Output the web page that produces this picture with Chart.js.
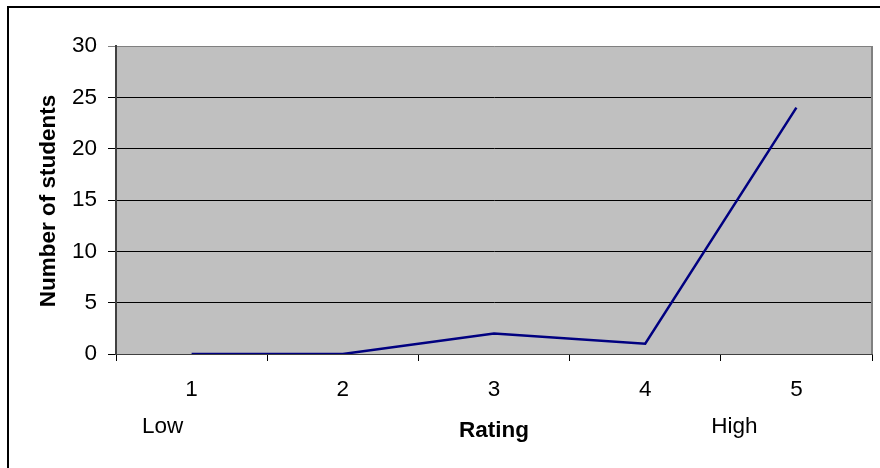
<!DOCTYPE html>
<html>
<head>
<meta charset="utf-8">
<script src="https://cdn.jsdelivr.net/npm/chart.js@4"></script>
<style>
  html, body { margin: 0; padding: 0; background: #fff; }
  #wrap { width: 880px; height: 468px; position: relative; }
</style>
</head>
<body>
<div id="wrap"><canvas id="c" width="880" height="468"></canvas></div>
<script>
// Ratings given by students (1 = low, 5 = high)
const ratings = ['1', '2', '3', '4', '5'];
const students = [0, 0, 2, 1, 24];
const yTicks = [0, 5, 10, 15, 20, 25, 30];

const FONT = '"Liberation Sans", Arial, sans-serif';
const SIZE = 22.5;

// Grey plot area, frame lines and the extra captions
const decor = {
  id: 'decor',
  beforeDraw(chart) {
    const { ctx, chartArea: a } = chart;
    ctx.save();
    ctx.fillStyle = '#ffffff';
    ctx.fillRect(0, 0, chart.width, chart.height);
    // outer frame (left and top edges fall inside the canvas)
    ctx.strokeStyle = '#000';
    ctx.lineWidth = 2;
    ctx.beginPath();
    ctx.moveTo(8, chart.height + 5);
    ctx.lineTo(8, 7);
    ctx.lineTo(chart.width + 5, 7);
    ctx.stroke();
    ctx.fillStyle = '#c0c0c0';
    ctx.fillRect(a.left, a.top, a.right - a.left, a.bottom - a.top);
    ctx.restore();
  },
  afterDatasetsDraw(chart) {
    const { ctx, chartArea: a, scales } = chart;
    ctx.save();
    // right edge of the plot area
    ctx.strokeStyle = '#808080';
    ctx.lineWidth = 2;
    ctx.beginPath();
    ctx.moveTo(a.right, a.top);
    ctx.lineTo(a.right, a.bottom);
    ctx.stroke();

    ctx.fillStyle = '#000';
    ctx.font = SIZE + 'px ' + FONT;
    ctx.textAlign = 'center';
    ctx.textBaseline = 'alphabetic';
    const x = scales.x;
    ctx.fillText('Low', x.getPixelForValue(0) - 29, 433);
    ctx.fillText('High', x.getPixelForValue(4) - 62, 433);

    ctx.font = 'bold ' + SIZE + 'px ' + FONT;
    ctx.fillText('Rating', x.getPixelForValue(2), 437);

    ctx.translate(55, (a.top + a.bottom) / 2 + 1);
    ctx.rotate(-Math.PI / 2);
    ctx.fillText('Number of students', 0, 0);
    ctx.restore();
  }
};

new Chart(document.getElementById('c'), {
  type: 'line',
  data: {
    labels: ratings,
    datasets: [{
      data: students,
      borderColor: '#000080',
      borderWidth: 2.5,
      pointRadius: 0,
      tension: 0,
      fill: false
    }]
  },
  options: {
    responsive: false,
    animation: false,
    layout: { padding: { top: 46, right: 8, left: 0, bottom: 0 } },
    plugins: { legend: { display: false }, tooltip: { enabled: false } },
    scales: {
      x: {
        type: 'category',
        offset: true,
        afterFit(s) { s.height = 114; },
        grid: {
          offset: true,
          drawOnChartArea: false,
          drawTicks: true,
          tickLength: 7,
          color: '#000'
        },
        border: { display: true, color: '#404040', width: 1 },
        ticks: {
          color: '#000',
          padding: 15,
          font: { family: FONT, size: SIZE },
          maxRotation: 0
        }
      },
      y: {
        min: 0,
        max: 30,
        afterFit(s) { s.width = 116; },
        afterBuildTicks(s) { s.ticks = yTicks.map(v => ({ value: v })); },
        grid: {
          color: ctx => (ctx.tick && ctx.tick.value === 30) ? '#808080' : '#000',
          lineWidth: 1,
          tickLength: 8
        },
        border: { display: true, color: '#404040', width: 2 },
        ticks: {
          color: '#000',
          padding: 11,
          font: { family: FONT, size: SIZE }
        }
      }
    }
  },
  plugins: [decor]
});
</script>
</body>
</html>
